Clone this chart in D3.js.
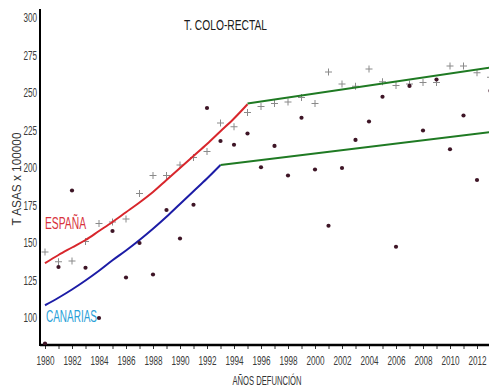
<!DOCTYPE html>
<html><head><meta charset="utf-8">
<script src="https://cdn.jsdelivr.net/npm/d3@7"></script>
<style>
html,body{margin:0;padding:0;background:#fff;}
svg{display:block;}
text{font-family:"Liberation Sans",Arial,sans-serif;}
</style></head>
<body>
<svg id="chart" width="489" height="387"></svg>
<script>
// ---- data ----
const years = d3.range(1980, 2014);
const espana = [144,137.5,138,151,163,164,166,183,195,195,202,207,211,230,227.5,237,241,243,244,247,243,264,256,254.5,266,257.5,255,256,257,257,268,268,263.5,260.5];
const canarias = [83,134,185,133.5,100,158,127,150,129,172,153,175.5,240,218,215.5,223,200.5,214.7,195,233.5,199,161.5,200,218.7,231,247.5,147.5,254.7,225,259,212.5,235,192,251.5];
const espTrendYears = d3.range(1980, 1996);
const espTrend = [136.5,142,147,152,158,164,170.5,177,184,192,200,208,216,224.5,233,242.5];
const espTrend2Years = [1995, 2014];
const espTrend2 = [243, 268.3];
const canTrendYears = d3.range(1980, 1994);
const canTrend = [108.5,113.5,119,125,131.5,138.5,145,152,159.5,167.5,176,184.5,193,202];
const canTrend2Years = [1993, 2014];
const canTrend2 = [202, 225];
const yTicks = [100,125,150,175,200,225,250,275,300];
const xTickYears = d3.range(1980, 2014);

const svg = d3.select("#chart");
const x = d3.scaleLinear().domain([1980, 2012]).range([45, 477]);
const y = d3.scaleLinear().domain([100, 300]).range([318, 18]);

function condense(sel, f) {
  sel.each(function() {
    const w = this.getComputedTextLength();
    if (w > 0) d3.select(this).attr("textLength", w * f).attr("lengthAdjust", "spacingAndGlyphs");
  });
}

svg.append("clipPath").attr("id","clip").append("rect")
  .attr("x", 40).attr("y", 0).attr("width", 449).attr("height", 345);

// axes
const xAxis = svg.append("g").attr("transform","translate(0,345)")
  .call(d3.axisBottom(x).tickValues(xTickYears).tickSize(4).tickPadding(7)
    .tickFormat(d => d % 2 === 0 ? d : ""));
xAxis.select(".domain").remove();
xAxis.selectAll(".tick line").attr("stroke","#333").attr("stroke-width",1);
xAxis.selectAll("text").attr("font-size", 12).attr("fill","#3a3a3a")
  .attr("font-family",'"Liberation Sans",Arial,sans-serif');
condense(xAxis.selectAll("text"), 0.68);

const yAxis = svg.append("g").attr("transform","translate(40,0)")
  .call(d3.axisLeft(y).tickValues(yTicks).tickSize(0).tickPadding(3));
yAxis.select(".domain").remove();
yAxis.selectAll("text").attr("font-size", 12).attr("fill","#3a3a3a")
  .attr("font-family",'"Liberation Sans",Arial,sans-serif');
condense(yAxis.selectAll("text"), 0.68);

svg.append("line").attr("x1",40).attr("x2",489).attr("y1",345).attr("y2",345)
  .attr("stroke","#000").attr("stroke-width",2.5);
svg.append("line").attr("x1",40).attr("x2",40).attr("y1",9).attr("y2",346)
  .attr("stroke","#000").attr("stroke-width",2);

const plot = svg.append("g").attr("clip-path","url(#clip)");
const line = d3.line().x(d => x(d[0])).y(d => y(d[1])).curve(d3.curveMonotoneX);

// Spain crosses
plot.selectAll(".cross").data(years.map((yr,i)=>[yr, espana[i]])).join("path")
  .attr("d", d => `M${x(d[0])-3.5},${y(d[1])}h7M${x(d[0])},${y(d[1])-3.5}v7`)
  .attr("stroke","#8a8a8a").attr("stroke-width",1).attr("fill","none");

// trend lines
plot.append("path").datum(espTrendYears.map((yr,i)=>[yr, espTrend[i]]))
  .attr("d", line).attr("fill","none").attr("stroke","#d8262c").attr("stroke-width",2);
plot.append("path").datum(canTrendYears.map((yr,i)=>[yr, canTrend[i]]))
  .attr("d", line).attr("fill","none").attr("stroke","#1c1ca6").attr("stroke-width",2);
plot.append("path").datum(espTrend2Years.map((yr,i)=>[yr, espTrend2[i]]))
  .attr("d", line).attr("fill","none").attr("stroke","#1f7a23").attr("stroke-width",2);
plot.append("path").datum(canTrend2Years.map((yr,i)=>[yr, canTrend2[i]]))
  .attr("d", line).attr("fill","none").attr("stroke","#1f7a23").attr("stroke-width",2);

// Canarias dots
plot.selectAll(".dot").data(years.map((yr,i)=>[yr, canarias[i]])).join("circle")
  .attr("cx", d => x(d[0])).attr("cy", d => y(d[1])).attr("r", 2.1)
  .attr("fill","#3e1526");

// labels
svg.append("text").attr("x", 184).attr("y", 30).attr("font-size", 15)
  .attr("font-family","Roboto,sans-serif").attr("font-weight",500)
  .attr("fill","#1a1a1a").attr("textLength", 83).attr("lengthAdjust","spacingAndGlyphs")
  .text("T. COLO-RECTAL");
svg.append("text").attr("x", 45).attr("y", 229).attr("font-size", 16)
  .attr("font-family","Roboto,sans-serif").attr("font-weight",500)
  .attr("fill","#d8323c").attr("textLength", 41).attr("lengthAdjust","spacingAndGlyphs")
  .text("ESPAÑA");
svg.append("text").attr("x", 46).attr("y", 322).attr("font-size", 16)
  .attr("font-family","Roboto,sans-serif").attr("font-weight",500)
  .attr("fill","#2a9fd8").attr("textLength", 51).attr("lengthAdjust","spacingAndGlyphs")
  .text("CANARIAS");
svg.append("text").attr("x", 267).attr("y", 385).attr("font-size", 12)
  .attr("text-anchor","middle").attr("fill","#333")
  .attr("textLength", 69).attr("lengthAdjust","spacingAndGlyphs")
  .text("AÑOS DEFUNCIÓN");
svg.append("text").attr("transform","translate(21,179) rotate(-90)")
  .attr("font-size", 12).attr("text-anchor","middle").attr("fill","#333")
  .attr("textLength", 93).attr("lengthAdjust","spacingAndGlyphs")
  .text("T ASAS x 100000");
</script>
</body></html>
